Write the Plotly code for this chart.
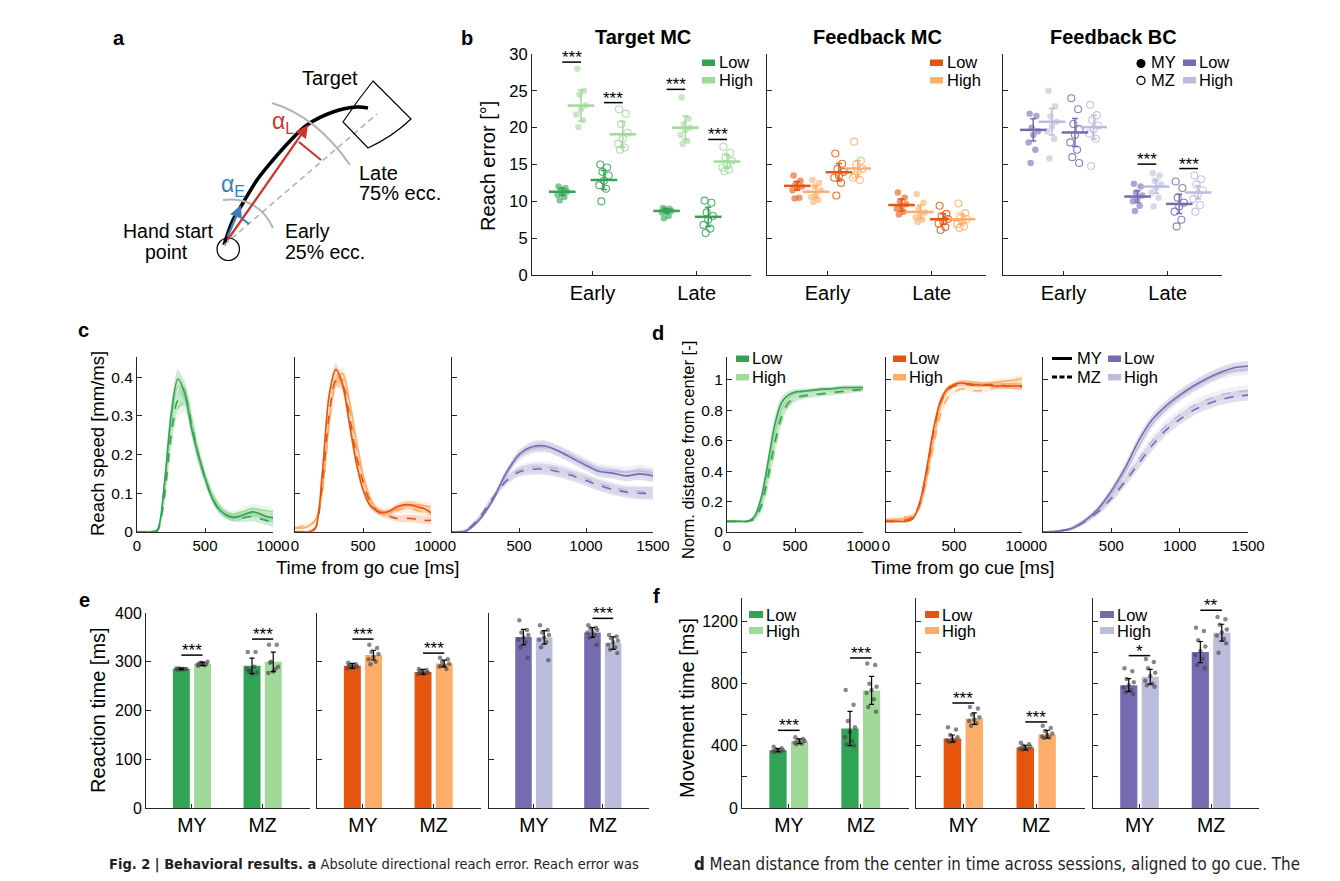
import plotly.graph_objects as go

W, H = 1340, 881
OFF = 8  # the page body adds an 8px margin; compensate so marks land where the reference has them
FONT = "Liberation Sans, Arial, sans-serif"
AXC = "#262626"

GREEN = ["#31a354", "#a1d99b"]
ORANGE = ["#e6550d", "#fdae6b"]
PURPLE = ["#756bb1", "#bcbddc"]
PALETTES = [GREEN, ORANGE, PURPLE]

# ---------------- panel b : reach error ----------------
b_titles = ["Target MC", "Feedback MC", "Feedback BC"]
b_categories = ["Early", "Late"]
# group order inside a category: MY-Low, MY-High, MZ-Low, MZ-High
b_target_mean = [[11.3, 23.0, 12.9, 19.1], [8.7, 20.0, 7.9, 15.4]]
b_target_sd = [[0.5, 2.1, 1.3, 1.75], [0.3, 1.6, 1.3, 0.9]]
b_target_pts = [
    [[12.0, 11.8, 11.5, 11.3, 11.1, 10.9, 10.6, 10.1],
     [28.0, 25.0, 24.5, 23.0, 22.5, 21.8, 21.0, 20.1],
     [15.0, 14.6, 14.0, 13.5, 12.8, 12.2, 11.7, 10.0],
     [22.5, 21.9, 20.5, 19.3, 18.5, 17.8, 17.3, 17.0]],
    [[9.1, 9.0, 8.9, 8.7, 8.6, 8.5, 8.0, 7.7],
     [24.1, 21.2, 20.5, 20.0, 19.7, 19.0, 18.2, 17.8],
     [10.1, 9.8, 8.5, 8.0, 7.5, 6.8, 6.3, 5.7],
     [17.4, 16.6, 16.0, 15.5, 15.0, 14.6, 14.3, 14.1]],
]
b_target_sig = [[28.9, 23.4], [25.2, 18.4]]

b_fbmc_mean = [[12.1, 11.3, 13.95, 14.45], [9.5, 8.56, 7.57, 7.57]]
b_fbmc_sd = [[0.6, 0.8, 1.2, 1.1], [0.8, 0.9, 0.7, 0.6]]
b_fbmc_pts = [
    [[13.5, 12.8, 12.4, 12.0, 11.8, 11.5, 10.5, 10.4],
     [12.9, 12.5, 12.0, 11.5, 11.0, 10.6, 10.2, 9.9],
     [16.5, 15.1, 14.4, 14.0, 13.5, 13.2, 12.5, 10.8],
     [18.1, 15.5, 15.0, 14.4, 14.0, 13.2, 12.9, 13.5]],
    [[11.2, 10.5, 10.0, 9.6, 9.3, 9.0, 8.6, 8.2],
     [11.0, 9.8, 9.0, 8.5, 8.2, 7.8, 7.5, 7.2],
     [9.4, 8.3, 8.0, 7.6, 7.3, 7.0, 6.5, 6.1],
     [9.7, 8.4, 8.0, 7.6, 7.2, 6.9, 6.6, 6.4]],
]
b_fbmc_sig = [[None, None], [None, None]]

b_fbbc_mean = [[19.7, 20.8, 19.35, 20.07], [10.65, 12.0, 9.65, 11.2]]
b_fbbc_sd = [[1.5, 1.8, 1.9, 1.6], [0.8, 0.9, 1.3, 0.9]]
b_fbbc_pts = [
    [[21.9, 21.6, 20.0, 19.5, 19.0, 18.0, 17.0, 15.2],
     [25.0, 22.9, 21.5, 20.8, 20.2, 19.5, 18.5, 15.8],
     [24.0, 22.5, 20.5, 19.8, 19.0, 18.0, 17.0, 16.0, 15.2],
     [23.1, 21.7, 21.0, 20.3, 19.8, 19.2, 18.5, 14.8]],
    [[12.4, 12.0, 11.2, 10.8, 10.4, 10.0, 9.4, 8.7],
     [13.8, 13.5, 12.8, 12.3, 11.8, 11.2, 10.5, 9.3],
     [12.7, 11.8, 10.5, 9.8, 9.3, 8.6, 7.5, 6.6],
     [13.5, 13.0, 12.3, 11.5, 11.0, 10.3, 9.5, 8.6]],
]
b_fbbc_sig = [[None, None], [15.05, 14.45]]

# ---------------- panel c : reach speed ----------------
c_time_mc = [0, 50, 100, 150, 200, 250, 300, 350, 400, 450, 500, 550, 600, 650, 700, 750, 800, 850, 900, 950, 1000]
c_time_bc = [0, 100, 200, 300, 400, 500, 600, 700, 800, 900, 1000, 1100, 1200, 1300, 1400, 1500]
# curves: MY-Low, MY-High, MZ-Low, MZ-High
c_green = [
    [0, 0, 0, 0.005, 0.12, 0.30, 0.395, 0.36, 0.27, 0.2, 0.14, 0.09, 0.06, 0.045, 0.038, 0.04, 0.047, 0.052, 0.048, 0.04, 0.037],
    [0, 0, 0, 0.005, 0.11, 0.28, 0.375, 0.37, 0.29, 0.2, 0.14, 0.1, 0.07, 0.05, 0.045, 0.05, 0.055, 0.06, 0.058, 0.055, 0.052],
    [0, 0, 0, 0.003, 0.09, 0.25, 0.34, 0.35, 0.28, 0.2, 0.14, 0.09, 0.06, 0.045, 0.038, 0.035, 0.038, 0.04, 0.035, 0.03, 0.025],
    [0, 0, 0, 0.003, 0.08, 0.23, 0.32, 0.335, 0.29, 0.21, 0.15, 0.1, 0.07, 0.05, 0.04, 0.042, 0.045, 0.05, 0.045, 0.04, 0.035],
]
c_green_sem = [0.003, 0.003, 0.003, 0.004, 0.02, 0.03, 0.025, 0.025, 0.025, 0.02, 0.015, 0.012, 0.01, 0.01, 0.01, 0.01, 0.012, 0.012, 0.012, 0.012, 0.012]
c_orange = [
    [0, 0, 0, 0.01, 0.15, 0.35, 0.42, 0.38, 0.28, 0.18, 0.11, 0.07, 0.055, 0.05, 0.055, 0.065, 0.07, 0.07, 0.065, 0.06, 0.05],
    [0.01, 0.01, 0.015, 0.03, 0.11, 0.28, 0.39, 0.41, 0.34, 0.24, 0.15, 0.09, 0.06, 0.05, 0.05, 0.06, 0.068, 0.07, 0.07, 0.068, 0.065],
    [0, 0, 0, 0.01, 0.12, 0.3, 0.39, 0.38, 0.3, 0.2, 0.13, 0.08, 0.055, 0.045, 0.04, 0.035, 0.035, 0.035, 0.033, 0.03, 0.03],
    [0.01, 0.015, 0.02, 0.03, 0.1, 0.27, 0.38, 0.395, 0.32, 0.22, 0.14, 0.085, 0.06, 0.05, 0.05, 0.055, 0.06, 0.06, 0.055, 0.05, 0.045],
]
c_orange_sem = [0.004, 0.004, 0.004, 0.006, 0.015, 0.02, 0.015, 0.015, 0.015, 0.015, 0.012, 0.01, 0.008, 0.008, 0.008, 0.008, 0.01, 0.01, 0.01, 0.01, 0.01]
c_purple = [
    [0, 0.002, 0.03, 0.08, 0.15, 0.2, 0.22, 0.222, 0.208, 0.19, 0.172, 0.156, 0.152, 0.145, 0.15, 0.145],
    [0, 0.003, 0.032, 0.08, 0.145, 0.195, 0.215, 0.218, 0.21, 0.195, 0.178, 0.162, 0.158, 0.155, 0.158, 0.152],
    [0, 0.003, 0.035, 0.085, 0.13, 0.155, 0.162, 0.162, 0.155, 0.145, 0.133, 0.12, 0.11, 0.103, 0.1, 0.1],
    [0, 0.004, 0.037, 0.088, 0.135, 0.16, 0.168, 0.168, 0.162, 0.15, 0.138, 0.125, 0.115, 0.108, 0.105, 0.103],
]
c_purple_sem = [0.002, 0.004, 0.006, 0.008, 0.01, 0.012, 0.014, 0.014, 0.014, 0.014, 0.014, 0.014, 0.014, 0.014, 0.016, 0.016]

# ---------------- panel d : normalised distance ----------------
d_green = [
    [0.07, 0.07, 0.07, 0.07, 0.1, 0.22, 0.45, 0.7, 0.85, 0.9, 0.92, 0.925, 0.93, 0.935, 0.94, 0.94, 0.945, 0.95, 0.95, 0.95, 0.95],
    [0.07, 0.07, 0.07, 0.07, 0.09, 0.19, 0.4, 0.64, 0.81, 0.88, 0.91, 0.92, 0.925, 0.93, 0.935, 0.94, 0.94, 0.945, 0.945, 0.95, 0.95],
    [0.07, 0.07, 0.07, 0.07, 0.085, 0.17, 0.36, 0.58, 0.76, 0.85, 0.88, 0.895, 0.9, 0.905, 0.91, 0.915, 0.92, 0.925, 0.93, 0.935, 0.935],
    [0.07, 0.07, 0.07, 0.07, 0.08, 0.15, 0.32, 0.54, 0.73, 0.83, 0.87, 0.885, 0.895, 0.9, 0.905, 0.91, 0.915, 0.92, 0.925, 0.93, 0.94],
]
d_green_sem = [0.005, 0.005, 0.005, 0.005, 0.01, 0.03, 0.05, 0.06, 0.04, 0.025, 0.02, 0.018, 0.016, 0.015, 0.015, 0.015, 0.015, 0.015, 0.015, 0.015, 0.015]
d_orange = [
    [0.07, 0.07, 0.07, 0.07, 0.09, 0.2, 0.42, 0.68, 0.86, 0.94, 0.97, 0.98, 0.975, 0.97, 0.965, 0.965, 0.96, 0.96, 0.96, 0.96, 0.96],
    [0.08, 0.08, 0.085, 0.09, 0.1, 0.17, 0.36, 0.61, 0.82, 0.93, 0.97, 0.99, 0.99, 0.985, 0.98, 0.98, 0.985, 0.99, 0.995, 1.0, 1.01],
    [0.07, 0.07, 0.075, 0.08, 0.1, 0.19, 0.4, 0.66, 0.85, 0.93, 0.96, 0.97, 0.97, 0.965, 0.965, 0.97, 0.97, 0.965, 0.96, 0.96, 0.955],
    [0.08, 0.085, 0.09, 0.1, 0.11, 0.17, 0.34, 0.57, 0.77, 0.88, 0.92, 0.94, 0.94, 0.93, 0.93, 0.935, 0.95, 0.96, 0.97, 0.975, 0.98],
]
d_orange_sem = [0.008, 0.008, 0.008, 0.008, 0.01, 0.02, 0.03, 0.03, 0.025, 0.02, 0.015, 0.015, 0.015, 0.015, 0.015, 0.015, 0.018, 0.02, 0.02, 0.022, 0.022]
d_purple = [
    [0, 0.005, 0.02, 0.07, 0.15, 0.27, 0.42, 0.6, 0.74, 0.83, 0.9, 0.96, 1.01, 1.05, 1.08, 1.09],
    [0, 0.006, 0.022, 0.07, 0.14, 0.25, 0.39, 0.56, 0.71, 0.81, 0.89, 0.95, 1.0, 1.04, 1.06, 1.07],
    [0, 0.005, 0.02, 0.065, 0.13, 0.22, 0.33, 0.45, 0.57, 0.67, 0.74, 0.8, 0.84, 0.87, 0.89, 0.9],
    [0, 0.006, 0.022, 0.07, 0.135, 0.23, 0.35, 0.48, 0.6, 0.7, 0.77, 0.83, 0.87, 0.9, 0.92, 0.93],
]
d_purple_sem = [0.003, 0.005, 0.01, 0.015, 0.02, 0.025, 0.03, 0.035, 0.035, 0.035, 0.035, 0.035, 0.035, 0.035, 0.035, 0.035]

# ---------------- panel e : reaction time ----------------
ef_categories = ["MY", "MZ"]
# [MY, MZ] x [Low, High]
e_green_mean = [[285.4, 295.7], [291.6, 299.8]]
e_green_sd = [[1.5, 3.5], [16, 20]]
e_green_pts = [[[284, 285, 286, 285, 284, 286, 285, 285], [292, 295, 298, 300, 297, 294, 293, 296]],
               [[320, 320, 282, 278, 275, 285, 290, 280], [335, 335, 300, 290, 280, 277, 285, 298]]]
e_green_sig = [313.6, 346.5]
e_orange_mean = [[291.6, 313.6], [279.2, 296.4]]
e_orange_sd = [[5, 10], [5, 7]]
e_orange_pts = [[[298, 295, 292, 290, 288, 286, 291, 293], [335, 328, 320, 316, 310, 305, 300, 295]],
                [[285, 283, 280, 278, 276, 275, 277, 280], [308, 305, 300, 296, 292, 290, 285, 292]]]
e_orange_sig = [346.5, 317.7]
e_purple_mean = [[350.6, 350.0], [360.2, 338.3]]
e_purple_sd = [[16, 14], [10, 13]]
e_purple_pts = [[[385, 365, 360, 355, 350, 345, 340, 330, 308], [375, 365, 360, 355, 350, 345, 340, 330, 303]],
                [[375, 370, 368, 365, 362, 360, 355, 350, 335], [355, 352, 348, 343, 340, 335, 330, 325, 318]]]
e_purple_sig = [None, 389]

# ---------------- panel f : movement time ----------------
f_green_mean = [[372, 430], [512, 757]]
f_green_sd = [[10, 15], [110, 90]]
f_green_pts = [[[395, 385, 378, 372, 368, 365, 362, 360], [455, 445, 438, 432, 425, 420, 415, 410]],
               [[760, 665, 560, 520, 490, 455, 430, 410, 400], [930, 920, 800, 780, 760, 740, 700, 650, 620]]]
f_green_sig = [500, 966]
f_orange_mean = [[447, 576], [389, 475]]
f_orange_sd = [[23, 37], [15, 25]]
f_orange_pts = [[[520, 505, 470, 455, 445, 435, 430, 425], [650, 640, 600, 585, 570, 560, 545, 530]],
                [[420, 410, 400, 395, 390, 385, 380, 375], [530, 515, 495, 480, 470, 460, 455, 450]]]
f_orange_sig = [676, 554]
f_purple_mean = [[791, 845], [1004, 1129]]
f_purple_sd = [[42, 47], [68, 54]]
f_purple_pts = [[[900, 880, 830, 810, 790, 775, 760, 745, 735], [960, 940, 900, 870, 850, 820, 800, 790, 780]],
                [[1160, 1140, 1080, 1040, 1010, 985, 960, 920, 900], [1230, 1215, 1180, 1150, 1130, 1110, 1090, 1000, 1060]]]
f_purple_sig = [981, 1273]
f_purple_sig_text = ["*", "**"]

# ---------------- panel a : schematic geometry (pixel space) ----------------
a_traj_x = [224, 233, 243, 257, 273, 290, 307, 333, 357, 368]
a_traj_y = [245, 220, 203, 180, 160, 141, 125, 112, 107, 108]

# =====================================================================
def rgba(h, a):
    h = h.lstrip('#')
    return f"rgba({int(h[0:2],16)},{int(h[2:4],16)},{int(h[4:6],16)},{a})"

def axn(i):
    return ("x" if i == 1 else f"x{i}", "y" if i == 1 else f"y{i}")

def lk(i):
    return ("xaxis" if i == 1 else f"xaxis{i}", "yaxis" if i == 1 else f"yaxis{i}")

def px(x):
    return (x - OFF) / W

def py(y):
    return 1 - (y - OFF) / H

layout = dict(width=W, height=H, margin=dict(l=0, r=0, t=0, b=0),
              paper_bgcolor="white", plot_bgcolor="rgba(0,0,0,0)",
              showlegend=False, barmode="overlay",
              font=dict(family=FONT, color="black", size=16))
traces, shapes, annots = [], [], []

def make_axes(i, xpx, ypx, xr, yr, xtv, xtt, ytv, ytt, xfs=16, yfs=16, yminor=None):
    xk, yk = lk(i)
    xa, ya = axn(i)
    common = dict(showline=True, linecolor=AXC, linewidth=1, ticks="inside", ticklen=4.5,
                  tickwidth=1, tickcolor=AXC, showgrid=False, zeroline=False,
                  fixedrange=True, automargin=False)
    layout[xk] = dict(domain=[px(xpx[0]), px(xpx[1])], range=xr, anchor=ya,
                      tickmode="array", tickvals=xtv, ticktext=xtt,
                      tickfont=dict(size=xfs, family=FONT, color="black"), **common)
    ya_d = dict(domain=[py(ypx[1]), py(ypx[0])], range=yr, anchor=xa,
                tickmode="array", tickvals=ytv,
                tickfont=dict(size=yfs, family=FONT, color="black"), **common)
    if ytt is None:
        ya_d["showticklabels"] = False
    else:
        ya_d["ticktext"] = ytt
    if yminor is not None:
        ya_d["minor"] = dict(tickvals=yminor, ticks="inside", ticklen=4.5, tickwidth=1,
                             tickcolor=AXC, showgrid=False)
    layout[yk] = ya_d

def text(x, y, s, size=16, bold=False, color="black", xanchor="center", yanchor="middle",
         angle=0, family=FONT, **kw):
    annots.append(dict(x=px(x), y=py(y), xref="paper", yref="paper", text=(f"<b>{s}</b>" if bold else s),
                       showarrow=False, xanchor=xanchor, yanchor=yanchor, textangle=angle,
                       font=dict(size=size, color=color, family=family), **kw))

def rect(x0, x1, y0, y1, color):
    shapes.append(dict(type="rect", xref="paper", yref="paper", x0=px(x0), x1=px(x1),
                       y0=py(y1), y1=py(y0), fillcolor=color, line=dict(width=0)))

def dot(cx, cy, r, filled):
    shapes.append(dict(type="circle", xref="paper", yref="paper", x0=px(cx - r), x1=px(cx + r),
                       y0=py(cy + r), y1=py(cy - r),
                       fillcolor="black" if filled else "rgba(0,0,0,0)",
                       line=dict(color="black", width=0 if filled else 1.3)))

JIT = [-0.035, 0.03, -0.015, 0.045, 0.0, -0.045, 0.02, -0.025, 0.04]

def sig(i, x0, x1, h, label="***", size=17):
    xa, ya = axn(i)
    shapes.append(dict(type="line", xref=xa, yref=ya, x0=x0, x1=x1, y0=h, y1=h,
                       line=dict(color="black", width=1.5)))
    annots.append(dict(x=(x0 + x1) / 2, y=h, xref=xa, yref=ya, text=label, showarrow=False,
                       yanchor="bottom", yshift=-7, font=dict(size=size, color="black", family=FONT)))

# ------------------------- panel b -------------------------
B_OFF = [-0.29, -0.11, 0.11, 0.29]
b_x = [(532, 751), (767, 986), (1003, 1222)]
b_means = [b_target_mean, b_fbmc_mean, b_fbbc_mean]
b_sds = [b_target_sd, b_fbmc_sd, b_fbbc_sd]
b_pts = [b_target_pts, b_fbmc_pts, b_fbbc_pts]
b_sigs = [b_target_sig, b_fbmc_sig, b_fbbc_sig]
for p in range(3):
    i = p + 1
    xa, ya = axn(i)
    make_axes(i, b_x[p], (54, 275), [0.42, 2.52], [0, 30], [1, 2], b_categories,
              [0, 5, 10, 15, 20, 25, 30],
              ["0", "5", "10", "15", "20", "25", "30"] if p == 0 else None, xfs=20, yfs=16.5)
    pal = PALETTES[p]
    for c in range(2):
        for g in range(4):
            col = pal[g % 2]
            xc = c + 1 + B_OFF[g]
            pts = b_pts[p][c][g]
            xs = [xc + JIT[k % len(JIT)] for k in range(len(pts))]
            if g < 2:
                mk = dict(size=6.5, color=rgba(col, 0.6), line=dict(width=0))
            else:
                mk = dict(size=7, symbol="circle-open", color=rgba(col, 0.85),
                          line=dict(width=1.1, color=rgba(col, 0.85)))
            traces.append(go.Scatter(x=xs, y=pts, mode="markers", marker=mk, xaxis=xa, yaxis=ya,
                                     hoverinfo="skip", cliponaxis=False))
    for c in range(2):
        for g in range(4):
            col = pal[g % 2]
            xc = c + 1 + B_OFF[g]
            traces.append(go.Scatter(x=[xc], y=[b_means[p][c][g]], mode="markers",
                                     marker=dict(symbol="line-ew", size=19, color=col,
                                                 line=dict(width=2.5, color=col)),
                                     error_y=dict(type="data", array=[b_sds[p][c][g]], color=col,
                                                  thickness=1.5, width=3),
                                     xaxis=xa, yaxis=ya, hoverinfo="skip"))
        for k in range(2):
            h = b_sigs[p][c][k]
            if h is not None:
                sig(i, c + 1 + B_OFF[2 * k], c + 1 + B_OFF[2 * k + 1], h)
    text((b_x[p][0] + b_x[p][1]) / 2 + 1, 37, b_titles[p], size=20, bold=True)

text(488, 166, "Reach error [°]", size=20, angle=-90)
# legends b
for p, (rx, tx) in enumerate([(702, 717), (930, 945), (1183, 1197)]):
    rect(rx, rx + 13, 59.5, 66, PALETTES[p][0])
    rect(rx, rx + 13, 77, 83.5, PALETTES[p][1])
    text(tx, 62.5, "Low", size=16.5, xanchor="left")
    text(tx, 80, "High", size=16.5, xanchor="left")
dot(1141, 63.5, 4.5, True)
dot(1141, 80.5, 4, False)
text(1149, 62.5, "MY", size=16.5, xanchor="left")
text(1149, 80, "MZ", size=16.5, xanchor="left")

# ------------------------- panels c & d -------------------------
def curves(i, t, data, sem, pal):
    xa, ya = axn(i)
    for g in range(4):
        col = pal[g % 2]
        y = data[g]
        lo = [v - s for v, s in zip(y, sem)]
        hi = [v + s for v, s in zip(y, sem)]
        traces.append(go.Scatter(x=t, y=lo, mode="lines", line=dict(width=0, shape="spline", smoothing=0.8),
                                 xaxis=xa, yaxis=ya, hoverinfo="skip"))
        traces.append(go.Scatter(x=t, y=hi, mode="lines", line=dict(width=0, shape="spline", smoothing=0.8),
                                 fill="tonexty", fillcolor=rgba(col, 0.22), xaxis=xa, yaxis=ya, hoverinfo="skip"))
    for g in [1, 3, 0, 2]:
        col = pal[g % 2]
        traces.append(go.Scatter(x=t, y=data[g], mode="lines",
                                 line=dict(width=1.6, color=col, dash="solid" if g < 2 else "dash",
                                           shape="spline", smoothing=0.8),
                                 xaxis=xa, yaxis=ya, hoverinfo="skip"))

c_ytv = [0, 0.1, 0.2, 0.3, 0.4]
c_ytt = ["0", "0.1", "0.2", "0.3", "0.4"]
TF = 15
make_axes(4, (137, 273), (357, 532), [0, 1000], [0, 0.452], [0, 500, 1000], ["0", "500", "1000"], c_ytv, c_ytt, xfs=TF, yfs=15.5)
make_axes(5, (295, 431), (357, 532), [0, 1000], [0, 0.452], [0, 500, 1000], ["0", "500", "1000"], c_ytv, None, xfs=TF)
make_axes(6, (452, 653), (357, 532), [0, 1500], [0, 0.452], [0, 500, 1000, 1500], ["0", "500", "1000", "1500"], c_ytv, None, xfs=TF)
curves(4, c_time_mc, c_green, c_green_sem, GREEN)
curves(5, c_time_mc, c_orange, c_orange_sem, ORANGE)
curves(6, c_time_bc, c_purple, c_purple_sem, PURPLE)
text(97, 444, "Reach speed [mm/ms]", size=18.5, angle=-90)
text(367, 567, "Time from go cue [ms]", size=18.5)

d_ytv = [0, 0.2, 0.4, 0.6, 0.8, 1]
d_ytt = ["0", "0.2", "0.4", "0.6", "0.8", "1"]
make_axes(7, (727, 863), (357, 532), [0, 1000], [0, 1.151], [0, 500, 1000], ["0", "500", "1000"], d_ytv, d_ytt, xfs=TF, yfs=15.5)
make_axes(8, (886, 1022), (357, 532), [0, 1000], [0, 1.151], [0, 500, 1000], ["0", "500", "1000"], d_ytv, None, xfs=TF)
make_axes(9, (1043, 1248), (357, 532), [0, 1500], [0, 1.151], [0, 500, 1000, 1500], ["0", "500", "1000", "1500"], d_ytv, None, xfs=TF)
curves(7, c_time_mc, d_green, d_green_sem, GREEN)
curves(8, c_time_mc, d_orange, d_orange_sem, ORANGE)
curves(9, c_time_bc, d_purple, d_purple_sem, PURPLE)
text(688, 450, "Norm. distance from center [-]", size=16.5, angle=-90)
text(962, 567, "Time from go cue [ms]", size=18.5)
for p, (rx, tx) in enumerate([(736, 750), (893, 907)]):
    rect(rx, rx + 13, 355.5, 362, PALETTES[p][0])
    rect(rx, rx + 13, 374, 380.5, PALETTES[p][1])
    text(tx, 358.5, "Low", size=16.5, xanchor="left")
    text(tx, 377, "High", size=16.5, xanchor="left")
rect(1108, 1121, 355.5, 362, PURPLE[0])
rect(1108, 1121, 374, 380.5, PURPLE[1])
text(1122, 358.5, "Low", size=16.5, xanchor="left")
text(1122, 377, "High", size=16.5, xanchor="left")
shapes.append(dict(type="line", xref="paper", yref="paper", x0=px(1052), x1=px(1072), y0=py(358.5), y1=py(358.5),
                   line=dict(color="black", width=3)))
shapes.append(dict(type="line", xref="paper", yref="paper", x0=px(1052), x1=px(1072), y0=py(377), y1=py(377),
                   line=dict(color="black", width=3, dash="5px,2.5px")))
text(1075, 358.5, "MY", size=16.5, xanchor="left")
text(1075, 377, "MZ", size=16.5, xanchor="left")

# ------------------------- panels e & f -------------------------
BAR_OFF = [-0.15, 0.15]
EF_JIT = [-0.06, 0.05, -0.03, 0.07, 0.0, -0.07, 0.03, -0.045, 0.06]

def bars(i, mean, sd, pts, pal, sigh, sigt=None):
    xa, ya = axn(i)
    for lvl in range(2):
        xs = [k + 1 + BAR_OFF[lvl] for k in range(2)]
        traces.append(go.Bar(x=xs, y=[mean[k][lvl] for k in range(2)], width=0.24,
                             marker=dict(color=pal[lvl], line=dict(width=0)), xaxis=xa, yaxis=ya,
                             hoverinfo="skip"))
    for k in range(2):
        for lvl in range(2):
            xc = k + 1 + BAR_OFF[lvl]
            pp = pts[k][lvl]
            traces.append(go.Scatter(x=[xc + EF_JIT[j % len(EF_JIT)] for j in range(len(pp))], y=pp,
                                     mode="markers", marker=dict(size=4.5, color="rgba(70,70,70,0.65)"),
                                     xaxis=xa, yaxis=ya, hoverinfo="skip"))
    for lvl in range(2):
        xs = [k + 1 + BAR_OFF[lvl] for k in range(2)]
        traces.append(go.Scatter(x=xs, y=[mean[k][lvl] for k in range(2)], mode="markers",
                                 marker=dict(size=1, color="rgba(0,0,0,0)"),
                                 error_y=dict(type="data", array=[sd[k][lvl] for k in range(2)],
                                              color="black", thickness=1.2, width=2.5),
                                 xaxis=xa, yaxis=ya, hoverinfo="skip"))
    for k in range(2):
        if sigh[k] is not None:
            sig(i, k + 1 + BAR_OFF[0], k + 1 + BAR_OFF[1], sigh[k],
                label=(sigt[k] if sigt else "***"))

e_x = [(146, 310), (317, 481), (489, 649)]
e_ytv = [0, 100, 200, 300, 400]
for p in range(3):
    make_axes(10 + p, e_x[p], (613, 808), [0.35, 2.67], [0, 400], [1, 2], ef_categories, e_ytv,
              ["0", "100", "200", "300", "400"] if p == 0 else None, xfs=19.5)
bars(10, e_green_mean, e_green_sd, e_green_pts, GREEN, e_green_sig)
bars(11, e_orange_mean, e_orange_sd, e_orange_pts, ORANGE, e_orange_sig)
bars(12, e_purple_mean, e_purple_sd, e_purple_pts, PURPLE, e_purple_sig)
text(98, 710, "Reaction time [ms]", size=20, angle=-90)

f_x = [(742, 909), (916, 1085), (1093, 1259)]
f_ytv = [0, 400, 800, 1200]
f_minor = [200, 600, 1000]
for p in range(3):
    make_axes(13 + p, f_x[p], (598, 808), [0.35, 2.67], [0, 1352], [1, 2], ef_categories, f_ytv,
              ["0", "400", "800", "1200"] if p == 0 else None, xfs=19.5, yminor=f_minor)
bars(13, f_green_mean, f_green_sd, f_green_pts, GREEN, f_green_sig)
bars(14, f_orange_mean, f_orange_sd, f_orange_pts, ORANGE, f_orange_sig)
bars(15, f_purple_mean, f_purple_sd, f_purple_pts, PURPLE, f_purple_sig, f_purple_sig_text)
text(687, 708, "Movement time [ms]", size=20, angle=-90)
for p, (rx, tx) in enumerate([(749, 764), (925, 940), (1100, 1115)]):
    rect(rx, rx + 14, 611, 618, PALETTES[p][0])
    rect(rx, rx + 14, 627, 634, PALETTES[p][1])
    text(tx, 614.5, "Low", size=16.5, xanchor="left")
    text(tx, 630.5, "High", size=16.5, xanchor="left")

# ------------------------- panel a (schematic) -------------------------
layout["xaxis16"] = dict(domain=[px(100), px(440)], range=[100, 440], visible=False, fixedrange=True, anchor="y16")
layout["yaxis16"] = dict(domain=[py(300), py(20)], range=[300, 20], visible=False, fixedrange=True, anchor="x16")
GRAY = "#b3b3b3"
RED = "#d1342c"
BLUE = "#3b7dbf"
shapes.append(dict(type="path", xref="x16", yref="y16", path="M 223,200 Q 258,196 273,228",
                   line=dict(color=GRAY, width=2)))
shapes.append(dict(type="path", xref="x16", yref="y16", path="M 272,103 Q 316.5,116.4 350,165",
                   line=dict(color=GRAY, width=2)))
shapes.append(dict(type="line", xref="x16", yref="y16", x0=224, y0=245, x1=377, y1=114,
                   line=dict(color=GRAY, width=1.6, dash="6px,4px")))
shapes.append(dict(type="path", xref="x16", yref="y16",
                   path="M 373,81 L 411,119 Q 392,137 368,148 L 343,122 Q 357,101 373,81 Z",
                   line=dict(color="black", width=1.2), fillcolor="rgba(0,0,0,0)"))
shapes.append(dict(type="circle", xref="x16", yref="y16", x0=217, x1=239.5, y0=238, y1=260.5,
                   line=dict(color="black", width=1.2)))
shapes.append(dict(type="line", xref="x16", yref="y16", x0=299, y0=142, x1=321, y1=160,
                   line=dict(color=RED, width=2.2)))
shapes.append(dict(type="line", xref="x16", yref="y16", x0=242.5, y0=219, x1=249, y1=224,
                   line=dict(color=BLUE, width=2.2)))
traces.append(go.Scatter(x=a_traj_x, y=a_traj_y, mode="lines",
                         line=dict(color="black", width=3.6, shape="spline", smoothing=1.0),
                         xaxis="x16", yaxis="y16", hoverinfo="skip"))
annots.append(dict(x=308, y=125, ax=224, ay=245, xref="x16", yref="y16", axref="x16", ayref="y16",
                   showarrow=True, arrowhead=2, arrowsize=1.1, arrowwidth=2.3, arrowcolor=RED, text=" ",
                   standoff=0, startstandoff=0))
annots.append(dict(x=241, y=205, ax=224, ay=245, xref="x16", yref="y16", axref="x16", ayref="y16",
                   showarrow=True, arrowhead=2, arrowsize=1.1, arrowwidth=2.3, arrowcolor=BLUE, text=" ",
                   standoff=0, startstandoff=0))
text(330, 78, "Target", size=20)
text(283, 122, "α<sub>L</sub>", size=23, color=RED)
text(233, 185, "α<sub>E</sub>", size=23, color=BLUE)
text(357, 173, "Late", size=20, xanchor="left")
text(357, 193, "75% ecc.", size=20, xanchor="left")
text(283, 231, "Early", size=19.5, xanchor="left")
text(283, 252, "25% ecc.", size=19.5, xanchor="left")
text(168, 231, "Hand start", size=19.5)
text(166, 252, "point", size=19.5)

# panel letters
for lt, x, y in [("a", 119, 38), ("b", 467, 38), ("c", 83, 330), ("d", 658, 333), ("e", 84, 600), ("f", 656, 596)]:
    text(x, y, lt, size=20, bold=True)

# caption
CAP = "Liberation Sans Narrow, Arial Narrow, DejaVu Sans Condensed, sans-serif"
text(107, 864, "<b>Fig. 2 | Behavioral results. a</b> Absolute directional reach error. Reach error was",
     size=14.5, xanchor="left", family=CAP, color="#231f20")
text(692, 864, "<b>d</b> Mean distance from the center in time across sessions, aligned to go cue. The",
     size=16.8, xanchor="left", family=CAP, color="#231f20")

layout["shapes"] = shapes
layout["annotations"] = annots
fig = go.Figure(data=traces, layout=layout)
fig.write_html("out.html")
